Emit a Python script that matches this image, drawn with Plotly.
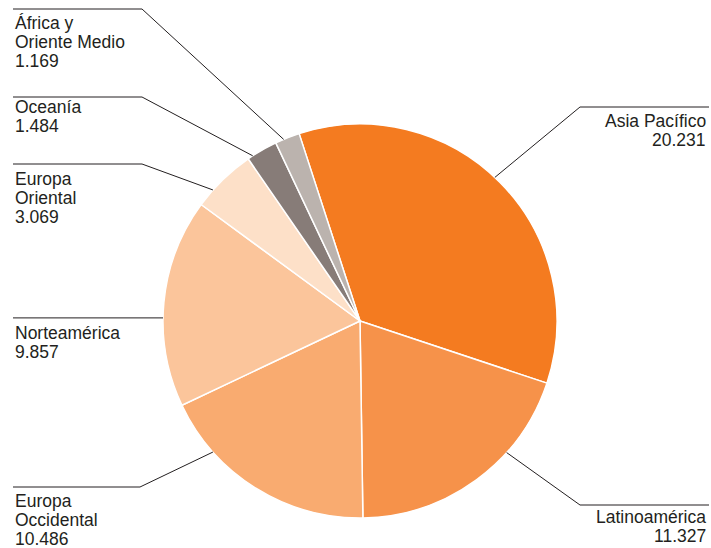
import math
import plotly.graph_objects as go

# Regions and their values (thousands)
regions = ["Asia Pacífico", "Latinoamérica", "Europa Occidental", "Norteamérica",
           "Europa Oriental", "Oceanía", "África y Oriente Medio"]
values = [20231, 11327, 10486, 9857, 3069, 1484, 1169]
colors = ["#F47B20", "#F6924A", "#F9AB70", "#FBC59B", "#FDE0C8", "#877C78", "#BBB3AE"]

# How each region name is wrapped in its label
name_lines = {
    "Asia Pacífico": ["Asia Pacífico"],
    "Latinoamérica": ["Latinoamérica"],
    "Europa Occidental": ["Europa", "Occidental"],
    "Norteamérica": ["Norteamérica"],
    "Europa Oriental": ["Europa", "Oriental"],
    "Oceanía": ["Oceanía"],
    "África y Oriente Medio": ["África y", "Oriente Medio"],
}

W, H = 711, 548
CX, CY, R = 360, 321, 197          # pie centre and radius in pixels
TEXT_COLOR = "#231F20"
FONT = "Liberation Sans, Arial, sans-serif"
FS = 17.5

# Label placement: leader start angle on the rim (deg clockwise from 12 o'clock),
# elbow point, outer end of the rule and text baselines (pixels)
label_layout = {
    "Asia Pacífico": dict(side="right", angle=43.2, elbow=(580, 107), end=709, base=[127, 146]),
    "Latinoamérica": dict(side="right", angle=131.9, elbow=(580, 505), end=709, base=[523, 542]),
    "Europa Occidental": dict(side="left", angle=228.3, elbow=(140, 487), end=13, base=[507, 526, 545]),
    "Norteamérica": dict(side="left", angle=270.9, elbow=None, end=13, base=[339, 358]),
    "Europa Oriental": dict(side="left", angle=311.7, elbow=(142, 164), end=13, base=[185, 204, 223]),
    "Oceanía": dict(side="left", angle=327.0, elbow=(142, 97), end=13, base=[113, 132]),
    "África y Oriente Medio": dict(side="left", angle=337.2, elbow=(142, 9), end=13, base=[29, 48, 67]),
}


def fx(x):
    return x / W


def fy(y):
    return 1 - y / H


def fmt(v):
    return f"{v:,}".replace(",", ".")


fig = go.Figure(go.Pie(
    labels=regions,
    values=values,
    sort=False,
    direction="clockwise",
    rotation=-18,
    marker=dict(colors=colors, line=dict(color="white", width=1.5)),
    textinfo="none",
    hoverinfo="label+value",
    domain=dict(x=[fx(CX - R), fx(CX + R)], y=[fy(CY + R), fy(CY - R)]),
    showlegend=False,
))

shapes = []
annotations = []
for name, val in zip(regions, values):
    cfg = label_layout[name]
    a = math.radians(cfg["angle"])
    ax = CX + R * math.sin(a)
    ay = CY - R * math.cos(a)
    if cfg["elbow"] is None:
        ex, ey = ax, ay
    else:
        ex, ey = cfg["elbow"]
    path = f"M {fx(ax)},{fy(ay)} L {fx(ex)},{fy(ey)} L {fx(cfg['end'])},{fy(ey)}"
    shapes.append(dict(type="path", xref="paper", yref="paper", path=path,
                       line=dict(color=TEXT_COLOR, width=1)))
    lines = name_lines[name] + [fmt(val)]
    right = cfg["side"] == "right"
    tx = 708 if right else 13
    for text, b in zip(lines, cfg["base"]):
        annotations.append(dict(
            x=fx(tx), y=fy(b - 6.2), xref="paper", yref="paper",
            text=text, showarrow=False,
            xanchor="right" if right else "left", yanchor="middle",
            align="right" if right else "left",
            font=dict(family=FONT, size=FS, color=TEXT_COLOR),
        ))

fig.update_layout(
    width=W, height=H,
    margin=dict(l=0, r=0, t=0, b=0),
    paper_bgcolor="white", plot_bgcolor="white",
    shapes=shapes, annotations=annotations,
)

fig.write_html("out.html")
